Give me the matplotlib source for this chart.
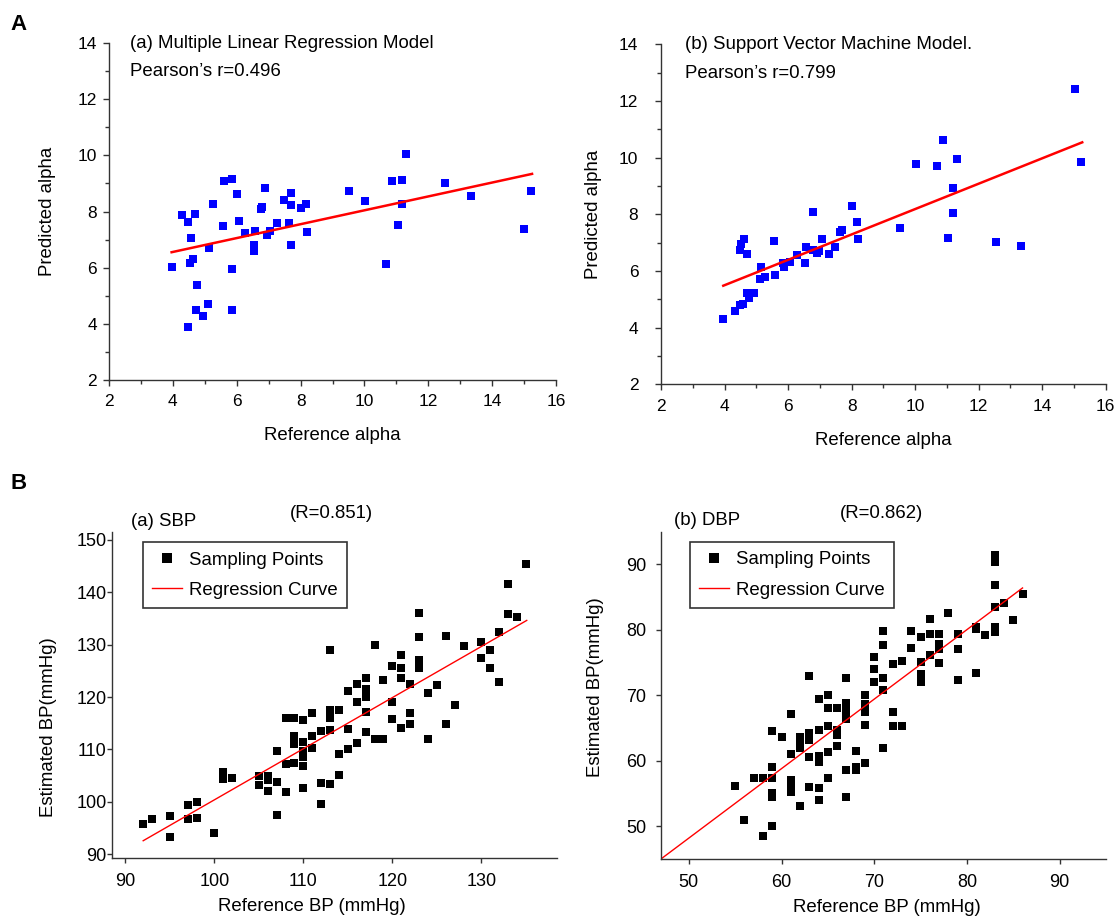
import matplotlib
matplotlib.use("Agg")
import matplotlib.pyplot as plt
from matplotlib.lines import Line2D

plt.rcParams["font.family"] = ["Liberation Sans", "DejaVu Sans"]

# --- A(a): multiple linear regression model ---
mlr_ref = [3.96, 4.30, 4.48, 4.69, 4.56, 5.14, 4.53, 4.63, 4.76, 4.71, 4.93, 4.48, 5.10,
           5.27, 5.59, 5.86, 5.56, 5.84, 5.84, 6.02, 6.08, 6.27, 6.53, 6.54, 6.57, 6.78,
           6.77, 6.88, 6.95, 7.04, 7.27, 7.47, 7.63, 7.70, 7.71, 7.70, 8.01, 8.18, 8.20,
           9.52, 10.02, 10.68, 10.87, 11.04, 11.17, 11.18, 11.29, 12.52, 13.33, 15.01, 15.22]
mlr_pred = [6.04, 7.86, 7.63, 7.90, 7.04, 6.71, 6.17, 6.32, 5.39, 4.50, 4.29, 3.90, 4.72,
            8.27, 9.07, 9.15, 7.48, 5.97, 4.50, 8.63, 7.66, 7.22, 6.80, 6.58, 7.32, 8.17,
            8.10, 8.84, 7.15, 7.32, 7.58, 8.42, 7.58, 8.67, 8.23, 6.82, 8.12, 8.27, 7.28,
            8.74, 8.38, 6.14, 9.09, 7.53, 9.13, 8.28, 10.05, 9.01, 8.54, 7.36, 8.72]
mlr_fit_x = [3.96, 15.25]
mlr_fit_y = [6.55, 9.34]

# --- A(b): support vector machine model ---
svm_ref = [3.96, 4.32, 4.50, 4.57, 4.70, 4.77, 4.94, 4.49, 4.53, 4.62, 4.70, 5.12, 5.15,
           5.28, 5.57, 5.59, 5.85, 5.86, 6.06, 6.27, 6.53, 6.55, 6.80, 6.78, 6.91, 6.97,
           7.06, 7.28, 7.48, 7.64, 7.71, 8.02, 8.18, 8.21, 9.53, 10.03, 10.69, 10.87,
           11.05, 11.18, 11.19, 11.31, 12.54, 13.34, 15.02, 15.23]
svm_pred = [4.32, 4.59, 4.80, 4.85, 5.21, 5.04, 5.21, 6.74, 6.96, 7.13, 6.60, 5.72, 6.15,
            5.79, 7.05, 5.86, 6.27, 6.13, 6.33, 6.55, 6.27, 6.84, 8.09, 6.74, 6.65, 6.71,
            7.14, 6.61, 6.85, 7.38, 7.45, 8.29, 7.73, 7.12, 7.53, 9.78, 9.71, 10.61,
            7.15, 8.93, 8.06, 9.94, 7.02, 6.87, 12.41, 9.86]
svm_fit_x = [3.96, 15.26]
svm_fit_y = [5.48, 10.54]

# --- B(a): SBP ---
sbp_ref = [92, 93, 95, 95, 97, 97, 98, 98, 100, 101, 101, 102, 105, 105, 106, 106, 106,
           107, 107, 107, 108, 108, 108, 109, 109, 109, 109, 110, 110, 110, 110, 110, 110,
           111, 111, 111, 112, 112, 112, 113, 113, 113, 113, 113, 114, 114, 114, 115, 115,
           115, 116, 116, 116, 117, 117, 117, 117, 117, 118, 118, 119, 119, 120, 120, 120,
           121, 121, 121, 121, 122, 122, 122, 123, 123, 123, 123, 124, 124, 125, 126, 126,
           127, 128, 130, 130, 131, 131, 132, 132, 133, 133, 134, 135]
sbp_est = [95.8, 96.8, 97.3, 93.3, 99.5, 96.8, 100.0, 97.0, 94.0, 105.7, 104.3, 104.6,
           104.9, 103.3, 105.0, 104.1, 102.0, 109.8, 103.8, 97.5, 116.0, 107.2, 101.9,
           116.0, 112.5, 111.1, 107.5, 115.6, 111.4, 109.7, 108.6, 106.8, 102.7, 117.0,
           112.5, 110.2, 113.5, 103.6, 99.6, 128.9, 117.5, 116.0, 113.8, 103.5, 117.6,
           109.2, 105.2, 121.1, 113.9, 110.0, 122.5, 119.1, 111.3, 123.7, 121.5, 120.0,
           117.2, 113.3, 130.0, 111.9, 123.2, 111.9, 126.0, 119.1, 115.8, 128.0, 125.5,
           123.6, 114.0, 122.5, 117.0, 114.9, 136.0, 131.4, 127.1, 125.5, 120.8, 111.9,
           122.3, 131.6, 114.9, 118.5, 129.7, 130.4, 127.4, 128.9, 125.5, 132.3, 122.9,
           141.6, 135.8, 135.2, 145.4]
sbp_fit_x = [92.0, 135.1]
sbp_fit_y = [92.6, 134.6]

# --- B(b): DBP ---
dbp_ref = [55, 56, 57, 58, 58, 59, 59, 59, 59, 59, 59, 60, 61, 61, 61, 61, 61, 62, 62,
           62, 62, 63, 63, 63, 63, 63, 64, 64, 64, 64, 64, 64, 65, 65, 65, 65, 65, 66, 66,
           66, 66, 67, 67, 67, 67, 67, 67, 67, 68, 68, 68, 69, 69, 69, 69, 69, 70, 70, 70,
           71, 71, 71, 71, 71, 72, 72, 72, 73, 73, 74, 74, 75, 75, 75, 75, 75, 76, 76, 76,
           77, 77, 77, 77, 78, 79, 79, 79, 81, 81, 81, 82, 83, 83, 83, 83, 83, 83, 84, 85, 86]
dbp_est = [56.2, 51.0, 57.4, 57.4, 48.5, 59.1, 57.3, 55.0, 54.5, 50.0, 64.5, 63.7, 67.2,
           61.1, 57.0, 55.8, 55.2, 63.7, 62.6, 61.9, 53.1, 73.0, 64.2, 63.2, 60.5, 56.0,
           64.7, 60.8, 59.8, 55.8, 54.0, 69.4, 70.1, 68.1, 65.3, 61.3, 57.4, 68.0, 64.7,
           63.9, 62.2, 72.6, 68.8, 68.0, 67.2, 66.4, 58.6, 54.5, 61.5, 59.1, 58.6, 70.1,
           68.6, 67.5, 65.5, 59.7, 75.8, 74.0, 72.0, 79.9, 77.7, 72.6, 70.8, 62.0, 74.8,
           67.5, 65.3, 75.2, 65.3, 79.8, 77.2, 78.9, 75.1, 73.3, 72.8, 72.0, 81.7, 79.3,
           76.1, 79.3, 77.9, 77.0, 74.9, 82.5, 79.4, 77.1, 72.4, 80.4, 80.1, 73.4, 79.2,
           91.4, 90.4, 86.9, 83.5, 80.5, 79.7, 84.1, 81.5, 85.5]
dbp_fit_x = [47.0, 86.0]
dbp_fit_y = [45.0, 86.4]

fig = plt.figure(figsize=(11.16, 9.17), dpi=100)
spine_color = "#333333"


def style_axes(ax):
    for side in ("top", "right"):
        ax.spines[side].set_visible(False)
    for side in ("left", "bottom"):
        ax.spines[side].set_color(spine_color)
        ax.spines[side].set_linewidth(1.0)


def alpha_panel(rect, ref, pred, fit_x, fit_y, title, r_text, text_x, ylab_x, ypad):
    ax = fig.add_axes(rect)
    style_axes(ax)
    ax.plot(ref, pred, "s", color="#0000ff", ms=5.2, mew=0, clip_on=False)
    ax.plot(fit_x, fit_y, color="#ff0000", lw=1.8)
    ax.set_xlim(2, 16)
    ax.set_ylim(2, 14)
    ax.set_xticks(range(2, 17, 2))
    ax.set_yticks(range(2, 15, 2))
    ax.set_xticks(range(3, 16, 2), minor=True)
    ax.set_yticks(range(3, 14, 2), minor=True)
    ax.tick_params(which="major", direction="out", length=4.3, width=1.0,
                   color=spine_color, labelsize=12.5)
    ax.tick_params(which="minor", direction="out", length=3, width=1.0, color=spine_color)
    ax.tick_params(axis="x", which="major", pad=6)
    ax.tick_params(axis="y", which="major", pad=ypad)
    ax.set_xlabel("Reference alpha", fontsize=13.4)
    ax.set_ylabel("Predicted alpha", fontsize=13.4)
    ax.xaxis.set_label_coords(0.5, -0.14)
    ax.yaxis.set_label_coords(ylab_x, 0.5)
    ax.text(text_x, 1.0, title, transform=ax.transAxes, fontsize=13.4, va="center")
    ax.text(text_x, 0.915, r_text, transform=ax.transAxes, fontsize=13.4, va="center")
    return ax


def bp_panel(rect, ref, est, fit_x, fit_y, xlim, ylim, xticks, yticks, name, r_text,
             name_x, r_x, ylab_x, ylab_y, xlab_x, ypad, leg_x):
    ax = fig.add_axes(rect)
    style_axes(ax)
    ax.plot(ref, est, "s", color="black", ms=5.4, mew=0, clip_on=False)
    ax.plot(fit_x, fit_y, color="#ff0000", lw=1.0)
    ax.set_xlim(*xlim)
    ax.set_ylim(*ylim)
    ax.set_xticks(xticks)
    ax.set_yticks(yticks)
    ax.tick_params(direction="out", length=3.5, width=1.0, color=spine_color,
                   labelsize=13)
    ax.tick_params(axis="x", pad=7)
    ax.tick_params(axis="y", pad=ypad)
    ax.set_xlabel("Reference BP (mmHg)", fontsize=13.4)
    ax.set_ylabel("Estimated BP(mmHg)", fontsize=13.4)
    ax.xaxis.set_label_coords(xlab_x, -0.122)
    ax.yaxis.set_label_coords(ylab_x, ylab_y)
    ax.text(name_x, 1.033, name, transform=ax.transAxes, fontsize=13.4, va="center")
    ax.text(r_x, 1.056, r_text, transform=ax.transAxes, fontsize=13.4, va="center",
            ha="center")
    handles = [
        Line2D([], [], marker="s", ls="none", color="black", ms=7, mew=0),
        Line2D([], [], color="#ff0000", lw=1.0),
    ]
    leg = ax.legend(handles, ["Sampling Points", "Regression Curve"], loc="upper left",
                    bbox_to_anchor=(leg_x, 0.968), borderaxespad=0, fontsize=13.4,
                    fancybox=False, framealpha=1, edgecolor=spine_color,
                    handlelength=1.6, handletextpad=0.35, labelspacing=0.72,
                    borderpad=0.5)
    leg.get_frame().set_linewidth(1.2)
    return ax


alpha_panel([0.0977, 0.5856, 0.4005, 0.3675], mlr_ref, mlr_pred, mlr_fit_x, mlr_fit_y,
            "(a) Multiple Linear Regression Model", "Pearson\u2019s r=0.496",
            0.047, -0.119, 4.5)
alpha_panel([0.5923, 0.5809, 0.3985, 0.3708], svm_ref, svm_pred, svm_fit_x, svm_fit_y,
            "(b) Support Vector Machine Model.", "Pearson\u2019s r=0.799",
            0.054, -0.133, 12)

bp_panel([0.1004, 0.0643, 0.3987, 0.3558], sbp_ref, sbp_est, sbp_fit_x, sbp_fit_y,
         (88.5, 138.5), (89.3, 151.5), range(90, 131, 10), range(90, 151, 10),
         "(a) SBP", "(R=0.851)", 0.042, 0.494, -0.124, 0.40, 0.45, 0.5, 0.07)
bp_panel([0.5923, 0.0633, 0.3987, 0.3569], dbp_ref, dbp_est, dbp_fit_x, dbp_fit_y,
         (47, 95), (45, 95), range(50, 91, 10), range(50, 91, 10),
         "(b) DBP", "(R=0.862)", 0.030, 0.496, -0.128, 0.525, 0.508, 7, 0.065)

fig.text(0.009, 0.973, "A", fontsize=16, fontweight="bold", va="center")
fig.text(0.009, 0.473, "B", fontsize=16, fontweight="bold", va="center")

fig.savefig("out.png", dpi=100)
